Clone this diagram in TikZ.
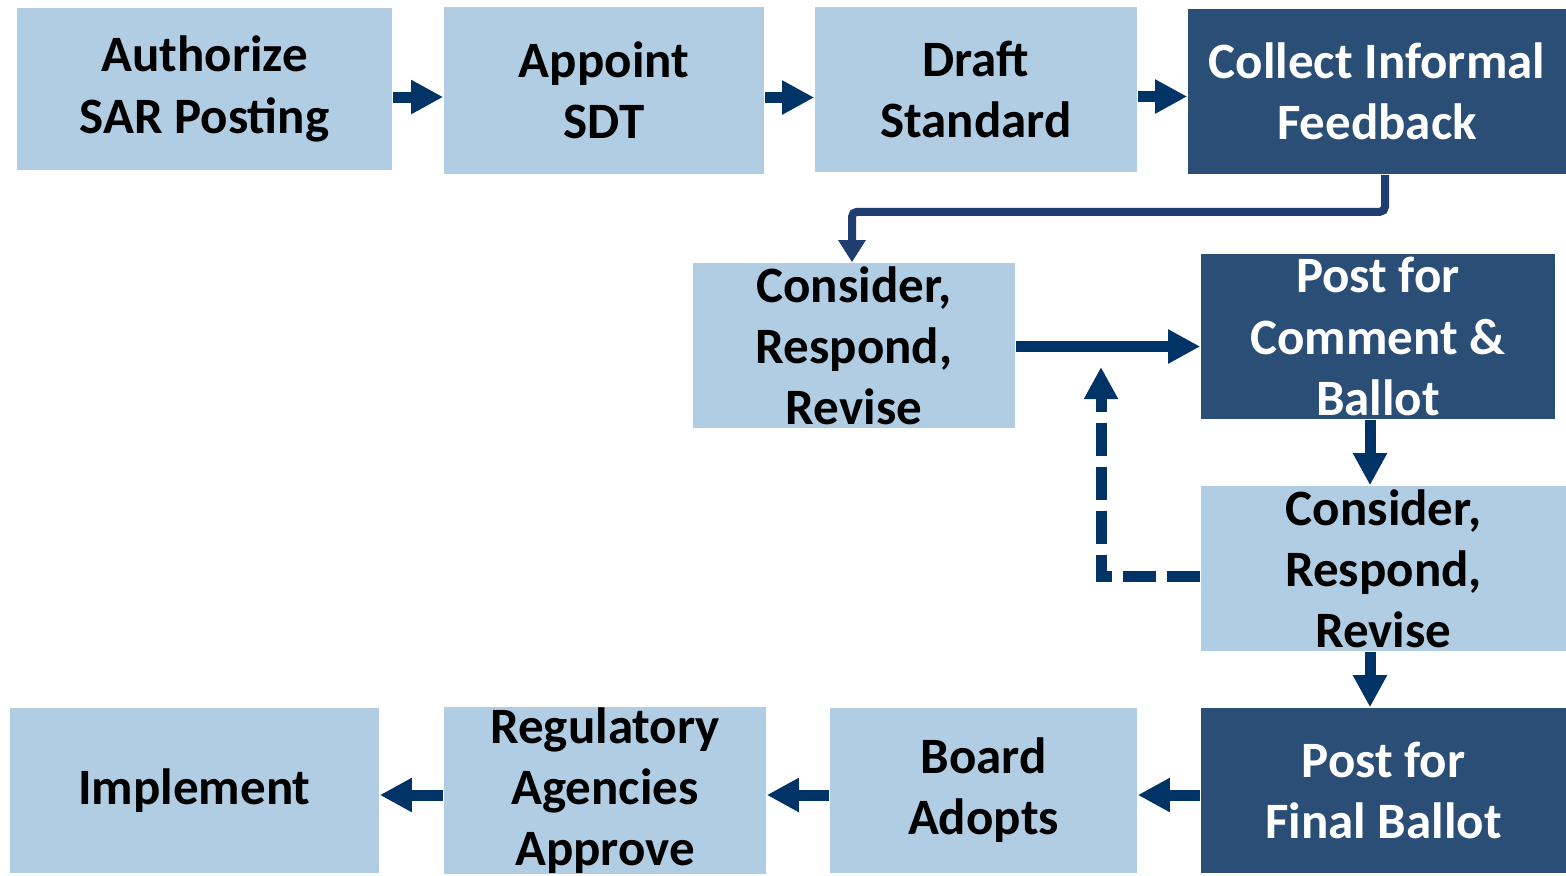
\documentclass[tikz,border=0pt]{standalone}
\usepackage{fontspec}
\setmainfont{Carlito}
\usetikzlibrary{arrows.meta}
\definecolor{lightbox}{HTML}{B0CDE4}
\definecolor{darkbox}{HTML}{2A4E75}
\definecolor{arrowblue}{HTML}{003366}
\definecolor{linkblue}{HTML}{1F3D70}

\begin{document}
\begin{tikzpicture}[x=0.01cm,y=-0.01cm]
\tikzstyle{box}=[inner sep=0pt,align=center,minimum height=1.65cm,font=\bfseries\fontsize{14.5}{17.4}\selectfont]
\tikzstyle{light}=[box,fill=lightbox,text=black]
\tikzstyle{dark}=[box,fill=darkbox,text=white]
\tikzstyle{arrow}=[arrowblue,line width=0.11cm,-{Triangle[length=0.32cm,width=0.32cm]}]
\tikzstyle{link}=[linkblue,line width=0.08cm,rounded corners=0.05cm,-{Triangle[length=0.22cm,width=0.26cm]}]
\tikzstyle{loop}=[arrow,dash pattern=on 0.33cm off 0.11cm]

\useasboundingbox (0,0) rectangle (1566,875);

% top row
\node (auth) [light, minimum width=3.75cm, minimum height=1.62cm] at (204.5, 89) {Authorize\\SAR Posting};
\node (appt) [light, minimum width=3.2cm, minimum height=1.67cm] at (604, 90.5) {Appoint\\SDT};
\node (draft) [light, minimum width=3.22cm] at (976, 89.5) {Draft\\Standard};
\node (collect) [dark, minimum width=3.78cm] at (1377, 91.5) {Collect Informal\\Feedback};

% middle
\node (cons1) [light, minimum width=3.22cm] at (854, 345.5) {Consider,\\Respond,\\Revise};
\node (postc) [dark, minimum width=3.54cm] at (1378, 336.5) {Post for\\Comment \&\\Ballot};
\node (cons2) [light, minimum width=3.65cm] at (1383.5, 568.5) {Consider,\\Respond,\\Revise};

% bottom row
\node (postf) [dark, minimum width=3.65cm] at (1383.5, 790.5) {Post for\\Final Ballot};
\node (board) [light, minimum width=3.07cm] at (983.5, 790.5) {Board\\Adopts};
\node (reg) [light, minimum width=3.22cm] at (605, 790.5) {Regulatory\\Agencies\\Approve};
\node (impl) [light, minimum width=3.69cm] at (194.5, 790.5) {Implement};

\draw [arrow] ([yshift=-0.08cm]auth.east) -- ([yshift=-0.08cm]auth.east -| appt.west);
\draw [arrow] ([yshift=-0.07cm]appt.east) -- ([yshift=-0.07cm]appt.east -| draft.west);
\draw [arrow] ([yshift=-0.07cm]draft.east) -- ([yshift=-0.07cm]draft.east -| collect.west);

\draw [link] ([xshift=0.08cm]collect.south) -- ++(0,37) -| ([xshift=-0.02cm]cons1.north);
\draw [arrow] ([yshift=-0.01cm]cons1.east) -- ([yshift=-0.01cm]cons1.east -| postc.west);

\draw [arrow] ([xshift=-0.08cm]postc.south) -- ([xshift=-0.08cm]postc.south |- cons2.north);
\coordinate (back) at (1101, 367);
\draw [loop] ([yshift=-0.08cm]cons2.west) -| (back);
\draw [arrow] ([xshift=-0.135cm]cons2.south) -- ([xshift=-0.135cm]postf.north);

\draw [arrow] ([yshift=-0.045cm]postf.west) -- ([yshift=-0.045cm]postf.west -| board.east);
\draw [arrow] ([yshift=-0.045cm]board.west) -- ([yshift=-0.045cm]board.west -| reg.east);
\draw [arrow] ([yshift=-0.045cm]reg.west) -- ([yshift=-0.045cm]reg.west -| impl.east);

\end{tikzpicture}
\end{document}
